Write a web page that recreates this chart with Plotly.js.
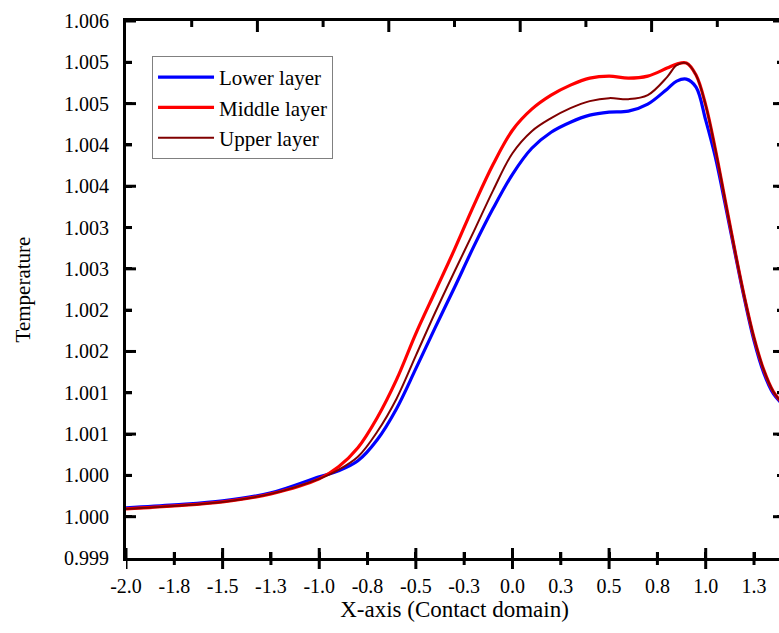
<!DOCTYPE html>
<html>
<head>
<meta charset="utf-8">
<script src="https://cdn.plot.ly/plotly-3.0.1.min.js"></script>
<style>
  html, body { margin: 0; padding: 0; overflow: hidden; background: #fff; }
  #chart { width: 790px; height: 633px; }
</style>
</head>
<body>
<div id="chart"></div>
<script>
// ---- data ----
const xValues = [-2.0, -1.75, -1.5, -1.25, -1.0, -0.9, -0.8, -0.7, -0.6, -0.5, -0.4, -0.3, -0.2, -0.1,
  0.0, 0.1, 0.2, 0.3, 0.4, 0.5, 0.6, 0.7, 0.8, 0.85, 0.9, 0.95, 1.0, 1.05, 1.1, 1.15, 1.2, 1.25, 1.3, 1.35, 1.4];

const lowerLayer = [0.999653, 0.999692, 0.999744, 0.999849, 1.0000578, 1.0001362, 1.0002668, 1.0005410,
  1.0009459, 1.0014683, 1.0020037, 1.0025261, 1.0030616, 1.0035578, 1.0040019, 1.0043414, 1.0045504,
  1.0046810, 1.0047724, 1.0048116, 1.0048246, 1.0049160, 1.0051119, 1.0052164, 1.0052425, 1.0051381,
  1.0047071, 1.0042239, 1.0036231, 1.0029963, 1.0023825, 1.0018340, 1.0014160, 1.0011418, 1.0009981];

const middleLayer = [0.999640, 0.999679, 0.999731, 0.999836, 1.0000317, 1.0001884, 1.0004366, 1.0008284,
  1.0013246, 1.0019254, 1.0024739, 1.0030224, 1.0035970, 1.0041325, 1.0045765, 1.0048507, 1.0050336,
  1.0051642, 1.0052556, 1.0052817, 1.0052556, 1.0052817, 1.0053862, 1.0054384, 1.0054515, 1.0052948,
  1.0049030, 1.0043284, 1.0036754, 1.0030224, 1.0024086, 1.0018731, 1.0014552, 1.0011679, 1.0010112];

const upperLayer = [0.999640, 0.999679, 0.999731, 0.999836, 1.0000317, 1.0001493, 1.0003190, 1.0006455,
  1.0010765, 1.0016381, 1.0021996, 1.0027351, 1.0032575, 1.0037929, 1.0042761, 1.0045634, 1.0047332,
  1.0048638, 1.0049552, 1.0049944, 1.0049813, 1.0050336, 1.0052686, 1.0054254, 1.0054515, 1.0052948,
  1.0049030, 1.0043284, 1.0036754, 1.0030224, 1.0024086, 1.0018731, 1.0014552, 1.0011679, 1.0010112];

const seriesNames = ["Lower layer", "Middle layer", "Upper layer"];

// bottom axis: labelled every quarter, long ticks every half
const xTickVals = [-2.0, -1.75, -1.5, -1.25, -1.0, -0.75, -0.5, -0.25, 0.0, 0.25, 0.5, 0.75, 1.0, 1.25];
const xTickText = ["-2.0", "-1.8", "-1.5", "-1.3", "-1.0", "-0.8", "-0.5", "-0.3", "0.0", "0.3", "0.5", "0.8", "1.0", "1.3"];
const xMajorTicks = [-2.0, -1.5, -1.0, -0.5, 0.0, 0.5, 1.0];
const xMinorTicks = [-1.75, -1.25, -0.75, -0.25, 0.25, 0.75, 1.25];

// top axis (unlabelled)
const topMajorTicks = [-1.32, -0.64, 0.04, 0.72];
const topMinorTicks = [-1.66, -0.98, -0.30, 0.38, 1.06];

// left / right axes
const yTickVals = [0.999, 0.9995385, 1.0000769, 1.0006154, 1.0011538, 1.0016923, 1.0022308,
  1.0027692, 1.0033077, 1.0038462, 1.0043846, 1.0049231, 1.0054615, 1.006];
const yTickText = ["0.999", "1.000", "1.000", "1.001", "1.001", "1.002", "1.002",
  "1.003", "1.003", "1.004", "1.004", "1.005", "1.005", "1.006"];
const yMajorTicks = yTickVals.filter((v, i) => i % 2 === 1);
const yMinorTicks = yTickVals.filter((v, i) => i % 2 === 0 && i > 0 && i < yTickVals.length - 1);

const xRange = [-2.0, 1.4];
const yRange = [0.999, 1.006];

// ---- styling ----
const FONT = "Liberation Serif";
const INK = "#000000";
const colors = ["#0000FF", "#FF0000", "#800000"];
const widths = [3.2, 3.2, 2];
const seriesData = [lowerLayer, middleLayer, upperLayer];

const traces = seriesData.map((ys, i) => ({
  type: "scatter",
  mode: "lines",
  name: seriesNames[i],
  x: xValues,
  y: ys,
  line: { color: colors[i], width: widths[i], shape: "spline", smoothing: 1 }
}));

// ---- Origin-style tick marks at the axis tick positions ----
const TICK = { color: INK, width: 3 };
const shapes = [];
function xTick(v, anchor, p0, p1) {
  shapes.push({ type: "line", xref: "x", yref: "paper", x0: v, x1: v,
    ysizemode: "pixel", yanchor: anchor, y0: p0, y1: p1, line: TICK });
}
function yTick(v, anchor, p0, p1) {
  shapes.push({ type: "line", yref: "y", xref: "paper", y0: v, y1: v,
    xsizemode: "pixel", xanchor: anchor, x0: p0, x1: p1, line: TICK });
}
xMajorTicks.forEach(v => xTick(v, 0, -11, 10));
xMinorTicks.forEach(v => xTick(v, 0, -7, 6));
topMajorTicks.forEach(v => xTick(v, 1, -11, 0));
topMinorTicks.forEach(v => xTick(v, 1, -6, 0));
yMajorTicks.forEach(v => { yTick(v, 0, 0, 10); yTick(v, 1, -10, 0); });
yMinorTicks.forEach(v => { yTick(v, 0, 0, 6); yTick(v, 1, -6, 0); });

const layout = {
  width: 790,
  height: 633,
  margin: { l: 126, r: 7, t: 21, b: 75, pad: 0 },
  paper_bgcolor: "#ffffff",
  plot_bgcolor: "#ffffff",
  font: { family: FONT, color: "#000", size: 20 },
  showlegend: true,
  legend: {
    x: 0.0396, y: 0.935, xanchor: "left", yanchor: "top",
    bgcolor: "#ffffff",
    bordercolor: "#808080", borderwidth: 1,
    font: { family: FONT, size: 21, color: "#000" },
    itemwidth: 56
  },
  xaxis: {
    range: xRange, autorange: false, showgrid: false, zeroline: false,
    tickmode: "array", tickvals: xTickVals, ticktext: xTickText,
    ticks: "inside", ticklen: 6, tickwidth: 3, tickcolor: INK,
    showline: true, linecolor: INK, linewidth: 3, mirror: true,
    tickfont: { family: FONT, size: 20, color: "#000" },
    ticklabelstandoff: 8,
    title: { text: "X-axis (Contact domain)", font: { family: FONT, size: 23, color: "#000" }, standoff: 0 }
  },
  yaxis: {
    range: yRange, autorange: false, showgrid: false, zeroline: false,
    tickmode: "array", tickvals: yTickVals, ticktext: yTickText,
    ticks: "inside", ticklen: 6, tickwidth: 3, tickcolor: INK,
    showline: true, linecolor: INK, linewidth: 3, mirror: "ticks",
    tickfont: { family: FONT, size: 20, color: "#000" },
    ticklabelstandoff: 10,
    title: { text: "Temperature", font: { family: FONT, size: 21, color: "#000" }, standoff: 28 }
  },
  shapes: shapes
};

Plotly.newPlot("chart", traces, layout, { displayModeBar: false })
  .catch(function (e) { console.error(e); });
</script>
</body>
</html>
